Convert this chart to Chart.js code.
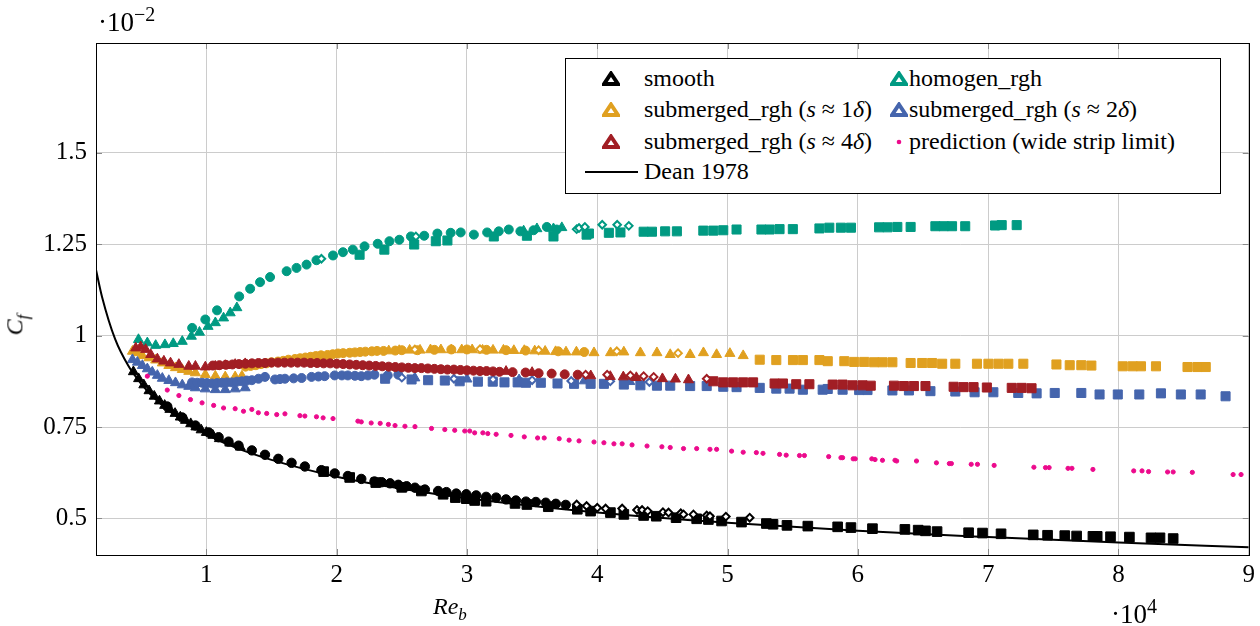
<!DOCTYPE html>
<html>
<head>
<meta charset="utf-8">
<script src="https://cdn.jsdelivr.net/npm/chart.js@4.4.0/dist/chart.umd.min.js"></script>
<style>
  body { margin: 0; background: #fff; }
  #wrap { position: relative; width: 1260px; height: 626px; font-family: "Liberation Serif", serif; color: #000; }
  #c { position: absolute; left: 0; top: 0; }
  .t { position: absolute; white-space: nowrap; font-family: "Liberation Serif", serif; font-size: 24px; line-height: 28px; }
  .t sub, .t sup { font-size: 17px; line-height: 0; }
  .big { font-size: 27px; }
  .big sup { font-size: 20px; }
  #legend { position: absolute; left: 565px; top: 58px; width: 654px; height: 134px; border: 1px solid #000; background: #fff; }
  .mk { position: absolute; }
</style>
</head>
<body>
<div id="wrap">
  <canvas id="c" width="1260" height="626"></canvas>
  <div class="t big" style="left:98px; top:8px;">·10<sup>−2</sup></div>
  <div class="t big" style="left:1111px; top:600px;">·10<sup>4</sup></div>
  <div class="t" style="left:433px; top:592px;"><i>Re</i><sub><i>b</i></sub></div>
  <div class="t" style="left:4px; top:311px; transform: rotate(-90deg); transform-origin: 50% 50%;"><i>C</i><sub><i>f</i></sub></div>
  <div id="legend"></div>
</div>
<script>
// axis ticks
const xTicks = [1, 2, 3, 4, 5, 6, 7, 8, 9];
const yTicks = [0.5, 0.75, 1, 1.25, 1.5];

// Re_b in 1e4, Cf in 1e-2
const smoothTri = [[0.44,0.901],[0.48,0.882],[0.52,0.865],[0.56,0.849],[0.60,0.834],[0.64,0.821],[0.68,0.809],[0.72,0.798],[0.76,0.787],[0.80,0.777],[0.84,0.768],[0.88,0.759],[0.92,0.750],[0.96,0.742],[1.00,0.735],[1.05,0.727],[1.10,0.718],[1.18,0.706],[1.26,0.695]];
const smoothCirc = [[0.70,0.806],[0.815,0.776],[0.916,0.754],[1.018,0.735],[1.094,0.722],[1.170,0.710],[1.247,0.699],[1.349,0.686],[1.450,0.674],[1.552,0.663],[1.654,0.652],[1.756,0.642],[1.883,0.632],[1.985,0.623],[2.086,0.616],[2.189,0.608],[2.290,0.601],[2.346,0.599],[2.410,0.596],[2.473,0.592],[2.537,0.588],[2.601,0.584],[2.677,0.579],[2.779,0.575],[2.842,0.572],[2.918,0.568],[2.995,0.566],[3.071,0.563],[3.147,0.559],[3.224,0.557],[3.300,0.552],[3.376,0.549],[3.453,0.546],[3.529,0.545],[3.605,0.543],[3.682,0.540],[3.758,0.537]];
const smoothSq = [[1.90,0.628],[2.10,0.612],[2.30,0.598],[2.50,0.585],[2.65,0.575],[2.817,0.566],[2.911,0.557],[2.995,0.554],[3.059,0.549],[3.147,0.547],[3.369,0.541],[3.460,0.538],[3.624,0.532],[3.847,0.525],[3.949,0.520],[4.101,0.516],[4.204,0.511],[4.356,0.508],[4.453,0.506],[4.605,0.502],[4.763,0.499],[4.853,0.497],[4.954,0.493],[5.107,0.490],[5.298,0.486],[5.349,0.484],[5.456,0.481],[5.616,0.479],[5.845,0.477],[5.947,0.475],[6.112,0.472],[6.361,0.470],[6.463,0.468],[6.519,0.466],[6.608,0.464],[6.850,0.461],[6.957,0.460],[7.099,0.458],[7.346,0.455],[7.456,0.454],[7.588,0.453],[7.679,0.452],[7.804,0.451],[7.837,0.451],[7.939,0.450],[8.084,0.449],[8.250,0.447],[8.319,0.447],[8.420,0.445]];
const smoothDia = [[3.842,0.538],[3.918,0.534],[4.000,0.529],[4.064,0.527],[4.191,0.527],[4.305,0.523],[4.344,0.523],[4.387,0.520],[4.504,0.517],[4.547,0.516],[4.641,0.514],[4.662,0.511],[4.738,0.511],[4.840,0.508],[4.865,0.506],[4.987,0.505],[5.170,0.502]];

const homTri = [[0.479,0.989],[0.547,0.980],[0.611,0.973],[0.682,0.975],[0.746,0.978],[0.815,0.984],[0.885,0.998],[0.947,1.009],[1.013,1.025],[1.069,1.035],[1.132,1.048],[1.183,1.062],[1.234,1.076],[3.435,1.286],[3.537,1.292],[3.664,1.292],[3.728,1.295]];
const homCirc = [[0.891,1.021],[0.992,1.044],[1.082,1.069],[1.252,1.107],[1.336,1.128],[1.412,1.146],[1.489,1.160],[1.616,1.176],[1.692,1.185],[1.769,1.194],[1.845,1.206],[1.972,1.219],[2.048,1.228],[2.124,1.235],[2.214,1.244],[2.315,1.251],[2.405,1.258],[2.481,1.262],[2.570,1.271],[2.672,1.273],[2.773,1.279],[2.875,1.281],[2.952,1.282],[3.053,1.276],[3.155,1.282],[3.244,1.285],[3.321,1.290],[3.410,1.285],[3.511,1.288],[3.613,1.297],[3.689,1.290]];
const homSq = [[2.176,1.221],[2.366,1.235],[2.595,1.249],[2.761,1.258],[2.850,1.260],[3.206,1.271],[3.460,1.273],[3.664,1.271],[3.918,1.276],[3.936,1.279],[4.089,1.281],[4.178,1.282],[4.356,1.284],[4.420,1.284],[4.521,1.285],[4.611,1.285],[4.814,1.287],[4.891,1.287],[4.967,1.288],[5.069,1.290],[5.260,1.290],[5.323,1.290],[5.399,1.291],[5.501,1.291],[5.705,1.293],[5.781,1.295],[5.870,1.295],[5.947,1.295],[6.163,1.296],[6.227,1.296],[6.303,1.297],[6.405,1.297],[6.595,1.299],[6.659,1.299],[6.723,1.299],[6.824,1.299],[7.053,1.301],[7.104,1.302],[7.219,1.302]];
const homDia = [[1.883,1.210],[2.608,1.271],[3.842,1.291],[3.860,1.294],[3.905,1.297],[4.038,1.303],[4.153,1.303],[4.242,1.300]];

const sub1Tri = [[0.433,0.957],[0.471,0.953],[0.509,0.945],[0.560,0.939],[0.611,0.933],[0.662,0.925],[0.712,0.918],[0.763,0.912],[0.815,0.907],[0.865,0.902],[0.916,0.898],[0.992,0.893],[1.069,0.889],[1.145,0.887],[1.221,0.887],[1.273,0.889],[2.40,0.958],[2.48,0.959],[2.56,0.960],[2.64,0.960],[2.72,0.961],[2.80,0.961],[2.88,0.961],[2.96,0.961],[3.04,0.961],[3.12,0.960],[3.20,0.960],[3.28,0.960],[3.36,0.959],[3.44,0.959],[3.52,0.958],[3.60,0.957],[3.68,0.956],[3.76,0.955],[3.84,0.955],[3.975,0.953],[4.102,0.953],[4.204,0.955],[4.331,0.953],[4.458,0.953],[4.560,0.948],[4.713,0.948],[4.815,0.953],[4.916,0.948],[5.018,0.951],[5.120,0.945]];
const sub1Circ = [[1.30,0.915],[1.34,0.917],[1.38,0.919],[1.42,0.922],[1.46,0.924],[1.50,0.927],[1.55,0.929],[1.59,0.931],[1.63,0.934],[1.68,0.936],[1.72,0.938],[1.76,0.940],[1.80,0.942],[1.84,0.944],[1.88,0.946],[1.93,0.947],[1.97,0.949],[2.01,0.951],[2.05,0.952],[2.10,0.953],[2.14,0.954],[2.18,0.955],[2.22,0.956],[2.27,0.957],[2.31,0.958],[2.36,0.958],[2.45,0.959],[2.50,0.960],[2.62,0.960],[2.75,0.961],[2.88,0.962],[3.00,0.962],[3.15,0.961],[3.30,0.960],[3.45,0.959],[3.70,0.957],[3.90,0.955]];
const sub1Sq = [[5.247,0.934],[5.374,0.933],[5.502,0.933],[5.578,0.933],[5.705,0.933],[5.769,0.930],[5.896,0.930],[5.972,0.928],[6.049,0.928],[6.125,0.927],[6.189,0.927],[6.265,0.927],[6.405,0.925],[6.494,0.925],[6.570,0.925],[6.647,0.923],[6.748,0.923],[6.914,0.923],[7.002,0.923],[7.079,0.923],[7.155,0.923],[7.270,0.923],[7.524,0.921],[7.626,0.919],[7.715,0.919],[7.792,0.918],[8.033,0.916],[8.109,0.916],[8.173,0.916],[8.288,0.916],[8.530,0.914],[8.606,0.914],[8.670,0.914]];
const sub1Dia = [[2.60,0.962],[3.10,0.963],[3.55,0.960],[4.15,0.957],[4.62,0.952]];

const sub2Tri = [[0.433,0.934],[0.471,0.927],[0.509,0.918],[0.547,0.909],[0.585,0.900],[0.624,0.891],[0.662,0.883],[0.712,0.877],[0.763,0.871],[0.815,0.865],[0.865,0.861],[0.916,0.857],[0.992,0.854],[1.069,0.852],[1.145,0.852],[1.221,0.854],[1.298,0.857],[2.60,0.884],[3.00,0.881],[3.40,0.879],[3.90,0.876],[4.25,0.874]];
const sub2Circ = [[0.891,0.872],[0.930,0.871],[0.967,0.871],[1.005,0.870],[1.044,0.869],[1.082,0.870],[1.120,0.871],[1.158,0.872],[1.196,0.872],[1.235,0.874],[1.273,0.875],[1.310,0.877],[1.349,0.878],[1.400,0.882],[1.450,0.887],[1.527,0.880],[1.565,0.881],[1.603,0.882],[1.670,0.883],[1.731,0.884],[1.807,0.887],[1.860,0.888],[1.908,0.889],[1.985,0.891],[2.040,0.891],[2.086,0.891],[2.140,0.890],[2.189,0.889],[2.240,0.891],[2.290,0.893],[2.392,0.891],[2.473,0.893]];
const sub2Sq = [[2.372,0.882],[2.575,0.880],[2.702,0.878],[2.830,0.877],[2.944,0.875],[3.084,0.874],[3.198,0.874],[3.288,0.872],[3.389,0.872],[3.453,0.871],[3.567,0.871],[3.695,0.869],[3.822,0.868],[3.949,0.868],[4.051,0.868],[4.204,0.866],[4.331,0.864],[4.458,0.863],[4.560,0.863],[4.713,0.862],[4.840,0.862],[4.967,0.860],[5.069,0.859],[5.247,0.857],[5.374,0.855],[5.476,0.855],[5.578,0.852],[5.730,0.852],[5.769,0.854],[5.883,0.852],[6.010,0.851],[6.074,0.851],[6.265,0.850],[6.392,0.850],[6.557,0.848],[6.748,0.847],[6.896,0.845],[7.040,0.845],[7.231,0.843],[7.372,0.842],[7.511,0.843],[7.715,0.843],[7.855,0.839],[7.995,0.839],[8.160,0.839],[8.326,0.842],[8.479,0.839],[8.631,0.839],[8.822,0.834]];
const sub2Dia = [[2.50,0.885],[2.90,0.882],[3.20,0.880],[3.50,0.878],[3.80,0.876],[4.10,0.875],[4.40,0.873]];

const sub4Tri = [[0.458,0.966],[0.496,0.969],[0.534,0.962],[0.573,0.948],[0.624,0.936],[0.674,0.930],[0.725,0.925],[0.789,0.921],[0.865,0.916],[0.916,0.916],[0.992,0.914],[1.069,0.916],[1.145,0.918],[1.221,0.921],[1.298,0.923],[3.30,0.902],[3.50,0.899],[3.95,0.890],[4.10,0.888],[4.20,0.887],[4.30,0.885],[4.50,0.882],[4.60,0.881],[4.70,0.879]];
const sub4Circ = [[1.05,0.918],[1.10,0.919],[1.15,0.920],[1.20,0.921],[1.25,0.922],[1.30,0.923],[1.35,0.924],[1.40,0.925],[1.45,0.925],[1.50,0.926],[1.55,0.926],[1.60,0.926],[1.65,0.926],[1.70,0.926],[1.75,0.926],[1.80,0.925],[1.85,0.925],[1.90,0.924],[1.95,0.924],[2.00,0.923],[2.05,0.922],[2.10,0.921],[2.15,0.920],[2.20,0.919],[2.25,0.918],[2.30,0.917],[2.35,0.916],[2.40,0.915],[2.45,0.914],[2.50,0.913],[2.55,0.912],[2.60,0.911],[2.65,0.911],[2.70,0.910],[2.75,0.909],[2.80,0.908],[2.85,0.907],[2.90,0.907],[2.95,0.906],[3.00,0.905],[3.05,0.904],[3.10,0.903],[3.15,0.903],[3.20,0.902],[3.25,0.901],[3.35,0.900],[3.45,0.899],[3.55,0.897],[3.65,0.896],[3.75,0.894],[3.85,0.893]];
const sub4Sq = [[4.891,0.875],[4.967,0.872],[5.043,0.872],[5.120,0.872],[5.196,0.872],[5.361,0.869],[5.425,0.869],[5.527,0.867],[5.628,0.867],[5.807,0.866],[5.883,0.866],[5.959,0.864],[6.036,0.864],[6.099,0.863],[6.277,0.863],[6.353,0.862],[6.430,0.862],[6.519,0.862],[6.735,0.860],[6.811,0.859],[6.888,0.859],[6.990,0.858],[7.181,0.857],[7.257,0.857],[7.333,0.856]];
const sub4Dia = [[3.911,0.893],[4.076,0.893],[4.254,0.891],[4.356,0.889],[4.433,0.887],[4.840,0.882]];

const prediction = [[0.547,0.889],[0.700,0.851],[0.789,0.836],[0.878,0.825],[0.967,0.816],[1.056,0.809],[1.132,0.802],[1.221,0.800],[1.285,0.793],[1.349,0.798],[1.399,0.789],[1.463,0.787],[1.540,0.784],[1.603,0.786],[1.718,0.781],[1.756,0.780],[1.845,0.778],[1.896,0.775],[1.972,0.773],[2.163,0.766],[2.189,0.764],[2.265,0.761],[2.334,0.760],[2.397,0.757],[2.448,0.754],[2.524,0.752],[2.601,0.751],[2.728,0.746],[2.830,0.743],[2.906,0.741],[2.983,0.739],[3.021,0.739],[3.059,0.734],[3.122,0.734],[3.160,0.732],[3.224,0.730],[3.338,0.727],[3.440,0.723],[3.542,0.720],[3.593,0.720],[3.708,0.718],[3.784,0.714],[3.860,0.712],[3.975,0.709],[4.051,0.707],[4.128,0.704],[4.191,0.704],[4.267,0.701],[4.382,0.698],[4.496,0.696],[4.560,0.694],[4.662,0.691],[4.763,0.691],[4.865,0.689],[4.916,0.689],[5.031,0.684],[5.120,0.681],[5.221,0.680],[5.272,0.678],[5.399,0.675],[5.450,0.673],[5.552,0.672],[5.590,0.672],[5.776,0.669],[5.870,0.666],[5.883,0.666],[5.964,0.663],[5.980,0.663],[6.107,0.663],[6.132,0.661],[6.189,0.659],[6.285,0.659],[6.298,0.657],[6.450,0.657],[6.603,0.652],[6.702,0.650],[6.718,0.650],[6.870,0.648],[6.918,0.648],[7.046,0.645],[7.351,0.640],[7.440,0.639],[7.468,0.639],[7.613,0.637],[7.643,0.637],[7.804,0.634],[8.117,0.630],[8.181,0.630],[8.231,0.628],[8.377,0.627],[8.420,0.627],[8.567,0.626],[8.880,0.620],[8.941,0.620]];

const deanRe = [0.153, 0.2, 0.3, 0.4, 0.5, 0.6, 0.7, 0.8, 1.0, 1.2, 1.5, 2, 2.5, 3, 4, 5, 6, 7, 8, 9];
const deanCf = [1.18, 1.105, 0.99, 0.918, 0.868, 0.829, 0.798, 0.772, 0.730, 0.697, 0.660, 0.614, 0.581, 0.555, 0.516, 0.488, 0.466, 0.449, 0.434, 0.4215];

const BLACK = "#000000", TEAL = "#009a82", ORANGE = "#e0a020", BLUE = "#4565ad", RED = "#a11e24", PINK = "#ec0a8c";

const pts = (arr) => arr.map(p => ({ x: p[0], y: p[1] }));

function marks(data, color, style, r) {
  return {
    type: "scatter",
    data: pts(data),
    pointStyle: style,
    pointRadius: r,
    backgroundColor: color,
    borderColor: color,
    borderWidth: 1,
  };
}
function diamonds(data, color) {
  return {
    type: "scatter",
    data: pts(data),
    pointStyle: "rectRot",
    pointRadius: 3.8,
    backgroundColor: "#fff",
    borderColor: color,
    borderWidth: 2,
  };
}

const datasets = [
  marks(smoothTri, BLACK, "triangle", 5.8),
  marks(smoothCirc, BLACK, "circle", 4.7),
  marks(smoothSq, BLACK, "rect", 6.8),
  diamonds(smoothDia, BLACK),
  marks(homTri, TEAL, "triangle", 5.8),
  marks(homCirc, TEAL, "circle", 4.5),
  marks(homSq, TEAL, "rect", 6.4),
  diamonds(homDia, TEAL),
  marks(sub1Tri, ORANGE, "triangle", 5.8),
  marks(sub1Circ, ORANGE, "circle", 4.5),
  marks(sub1Sq, ORANGE, "rect", 6.4),
  diamonds(sub1Dia, ORANGE),
  marks(sub2Tri, BLUE, "triangle", 5.8),
  marks(sub2Circ, BLUE, "circle", 4.5),
  marks(sub2Sq, BLUE, "rect", 6.4),
  diamonds(sub2Dia, BLUE),
  marks(sub4Tri, RED, "triangle", 5.8),
  marks(sub4Circ, RED, "circle", 4.5),
  marks(sub4Sq, RED, "rect", 6.4),
  diamonds(sub4Dia, RED),
  marks(prediction, PINK, "circle", 2.1),
  {
    type: "line",
    data: deanRe.map((x, i) => ({ x: x, y: deanCf[i] })),
    borderColor: BLACK,
    borderWidth: 2,
    pointRadius: 0,
    cubicInterpolationMode: "monotone",
    fill: false,
  },
];
// later datasets on top
datasets.forEach((d, i) => { d.order = -i; });

// pgfplots-like frame with small inner tick marks
const frame = {
  id: "frame",
  afterDraw(chart) {
    const a = chart.chartArea, ctx = chart.ctx;
    const xs = chart.scales.x, ys = chart.scales.y;
    ctx.save();
    ctx.strokeStyle = "#8a8a8a";
    ctx.lineWidth = 1;
    ctx.beginPath();
    xTicks.forEach((v) => {
      const px = Math.round(xs.getPixelForValue(v)) + 0.5;
      ctx.moveTo(px, a.bottom); ctx.lineTo(px, a.bottom - 6);
      ctx.moveTo(px, a.top); ctx.lineTo(px, a.top + 6);
    });
    yTicks.forEach((v) => {
      const py = Math.round(ys.getPixelForValue(v)) + 0.5;
      ctx.moveTo(a.left, py); ctx.lineTo(a.left + 6, py);
      ctx.moveTo(a.right, py); ctx.lineTo(a.right - 6, py);
    });
    ctx.stroke();
    ctx.strokeStyle = "#000";
    ctx.strokeRect(Math.round(a.left) + 0.5, Math.round(a.top) + 0.5, Math.round(a.right - a.left), Math.round(a.bottom - a.top));
    ctx.restore();
  },
};

const tickFont = { family: "Liberation Serif", size: 25 };

new Chart(document.getElementById("c").getContext("2d"), {
  data: { datasets: datasets },
  plugins: [frame],
  options: {
    responsive: false,
    animation: false,
    layout: { padding: { left: 0, top: 43, right: 7, bottom: 0 } },
    plugins: { legend: { display: false }, tooltip: { enabled: false } },
    scales: {
      x: {
        type: "linear",
        min: 0.153,
        max: 9,
        afterBuildTicks: (s) => { s.ticks = xTicks.map(v => ({ value: v })); },
        afterFit: (s) => { s.height = 71; },
        grid: { color: "#cccccc", lineWidth: 1, drawTicks: false },
        border: { color: "#000", width: 1 },
        ticks: { font: tickFont, color: "#000", padding: 5, maxRotation: 0, callback: (v) => String(v) },
      },
      y: {
        type: "linear",
        min: 0.4,
        max: 1.8,
        afterBuildTicks: (s) => { s.ticks = yTicks.map(v => ({ value: v })); },
        afterFit: (s) => { s.width = 96; },
        grid: { color: "#cccccc", lineWidth: 1, drawTicks: false },
        border: { color: "#000", width: 1 },
        ticks: { font: tickFont, color: "#000", padding: 9, callback: (v) => String(v) },
      },
    },
  },
});

// legend
const legendItems = [
  { col: 0, row: 0, color: BLACK, kind: "tri", html: "smooth" },
  { col: 1, row: 0, color: TEAL, kind: "tri", html: "homogen_rgh" },
  { col: 0, row: 1, color: ORANGE, kind: "tri", html: "submerged_rgh (<i>s</i> ≈ 1<i>δ</i>)" },
  { col: 1, row: 1, color: BLUE, kind: "tri", html: "submerged_rgh (<i>s</i> ≈ 2<i>δ</i>)" },
  { col: 0, row: 2, color: RED, kind: "tri", html: "submerged_rgh (<i>s</i> ≈ 4<i>δ</i>)" },
  { col: 1, row: 2, color: PINK, kind: "dot", html: "prediction (wide strip limit)" },
  { col: 0, row: 3, color: BLACK, kind: "line", html: "Dean 1978" },
];
const rowY = [20, 51, 83, 113];
const colMark = [45, 333];
const colText = [78, 343];
const leg = document.getElementById("legend");
legendItems.forEach((it) => {
  const cy = rowY[it.row];
  let svg;
  if (it.kind === "tri") {
    svg = `<svg class="mk" style="left:${colMark[it.col] - 9}px;top:${cy - 8}px" width="18" height="15"><polygon points="9,2.5 16,13 2,13" fill="#fff" stroke="${it.color}" stroke-width="4" stroke-linejoin="miter"/></svg>`;
  } else if (it.kind === "dot") {
    svg = `<svg class="mk" style="left:${colMark[it.col] - 4}px;top:${cy - 4}px" width="8" height="8"><circle cx="4" cy="4" r="2.3" fill="${it.color}"/></svg>`;
  } else {
    svg = `<svg class="mk" style="left:19px;top:${cy - 2}px" width="54" height="4"><line x1="0" y1="2" x2="53" y2="2" stroke="${it.color}" stroke-width="2"/></svg>`;
  }
  leg.insertAdjacentHTML("beforeend", svg +
    `<div class="t" style="left:${colText[it.col]}px;top:${cy - 15}px">${it.html}</div>`);
});
</script>
</body>
</html>
